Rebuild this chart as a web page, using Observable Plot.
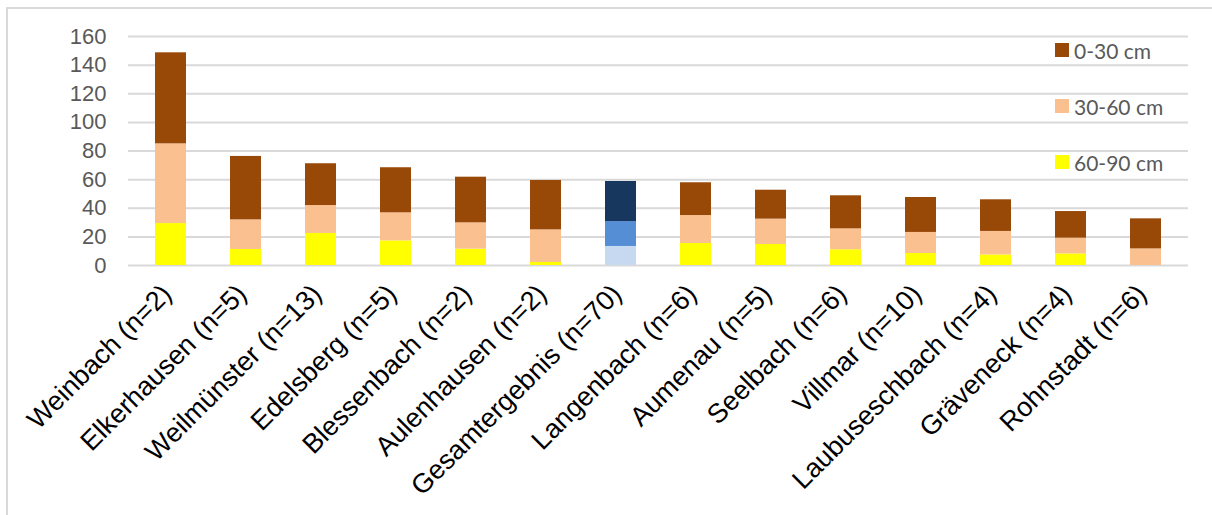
<!DOCTYPE html>
<html>
<head>
<meta charset="utf-8">
<script src="https://cdn.jsdelivr.net/npm/d3@7"></script>
<script src="https://cdn.jsdelivr.net/npm/@observablehq/plot@0.6"></script>
<style>
  body { margin: 0; background: #fff; }
  #wrap { position: relative; width: 1212px; height: 515px; overflow: hidden; }
  #frame { position: absolute; left: 6px; top: 7px; width: 1230px; height: 540px;
           border-top: 2px solid #d9d9d9; border-left: 2px solid #d9d9d9; pointer-events: none; }
  #chart { position: absolute; left: 0; top: 0; }
  #chart svg text { font-family: "Liberation Sans", Arial, sans-serif; }
  .legend-row { position: absolute; left: 1055px; display: flex; align-items: center;
                font-family: Lato, "Open Sans", sans-serif; font-size: 21px; color: #595959; }
  .legend-row span.sw { width: 14px; height: 14px; margin-right: 5px; display: inline-block; }
</style>
</head>
<body>
<div id="wrap">
  <div id="chart"></div>
  <div id="frame"></div>
</div>
<script>
// Locations (sample count in brackets), sorted by total
const categories = [
  "Weinbach (n=2)", "Elkerhausen (n=5)", "Weilmünster (n=13)", "Edelsberg (n=5)",
  "Blessenbach (n=2)", "Aulenhausen (n=2)", "Gesamtergebnis (n=70)", "Langenbach (n=6)",
  "Aumenau (n=5)", "Seelbach (n=6)", "Villmar (n=10)", "Laubuseschbach (n=4)",
  "Gräveneck (n=4)", "Rohnstadt (n=6)"
];

// Values per soil depth layer
const depth60to90 = [29.3, 11.2, 22.4, 17.2, 11.4, 2.1, 13.3, 15.4, 14.7, 11.0, 8.4, 7.4, 8.1, 0];
const depth30to60 = [55.7, 20.7, 19.5, 19.6, 18.4, 22.8, 17.4, 19.5, 17.7, 14.6, 14.7, 16.4, 11.0, 11.6];
const depth0to30  = [63.6, 44.3, 29.2, 31.5, 31.9, 34.5, 28.0, 22.9, 20.2, 23.1, 24.4, 22.1, 18.6, 21.0];

// Layer names, stacked from bottom to top
const layers = ["60-90 cm", "30-60 cm", "0-30 cm"];
const legendOrder = ["0-30 cm", "30-60 cm", "60-90 cm"];
const yTicks = [0, 20, 40, 60, 80, 100, 120, 140, 160];

const layerColors = { "0-30 cm": "#984807", "30-60 cm": "#fac090", "60-90 cm": "#ffff00" };
const totalColors = { "0-30 cm": "#17375e", "30-60 cm": "#558ed5", "60-90 cm": "#c6d9f1" };
const totalCategory = "Gesamtergebnis (n=70)";

const series = [depth60to90, depth30to60, depth0to30];
const rows = [];
categories.forEach((c, i) => {
  layers.forEach((l, j) => {
    rows.push({ category: c, layer: l, value: series[j][i],
      color: (c === totalCategory ? totalColors : layerColors)[l] });
  });
});

const font = "Liberation Sans, Arial, sans-serif";

const chart = Plot.plot({
  width: 1212,
  height: 515,
  marginLeft: 128,
  marginRight: 24,
  marginTop: 36,
  marginBottom: 250,
  style: { fontFamily: font, background: "transparent" },
  x: { domain: categories, paddingInner: 0.59, paddingOuter: 0.29, axis: null },
  y: { domain: [0, 160], axis: null },
  marks: [
    Plot.ruleY(yTicks, { stroke: "#d9d9d9", strokeWidth: 2 }),
    Plot.axisY(yTicks, { tickSize: 0, tickPadding: 22, fontSize: 22, fontFamily: font, color: "#595959", label: null }),
    Plot.barY(rows, { x: "category", y: "value", z: "layer", fill: "color" }),
    Plot.text(categories, {
      x: d => d, y: () => 0, text: d => d,
      rotate: -45, textAnchor: "end", lineAnchor: "middle",
      fontSize: 27, fontFamily: font, fill: "#000", dx: -4, dy: 24
    })
  ]
});
document.getElementById("chart").appendChild(chart);

// Legend placed inside the plot area on the right
const rowTops = [43, 99, 155];
legendOrder.forEach((l, i) => {
  const row = document.createElement("div");
  row.className = "legend-row";
  row.style.top = (rowTops[i] - 7) + "px";
  row.style.height = "28px";
  const sw = document.createElement("span");
  sw.className = "sw";
  sw.style.background = layerColors[l];
  const t = document.createElement("span");
  t.textContent = l;
  row.appendChild(sw);
  row.appendChild(t);
  document.getElementById("wrap").appendChild(row);
});
</script>
</body>
</html>
